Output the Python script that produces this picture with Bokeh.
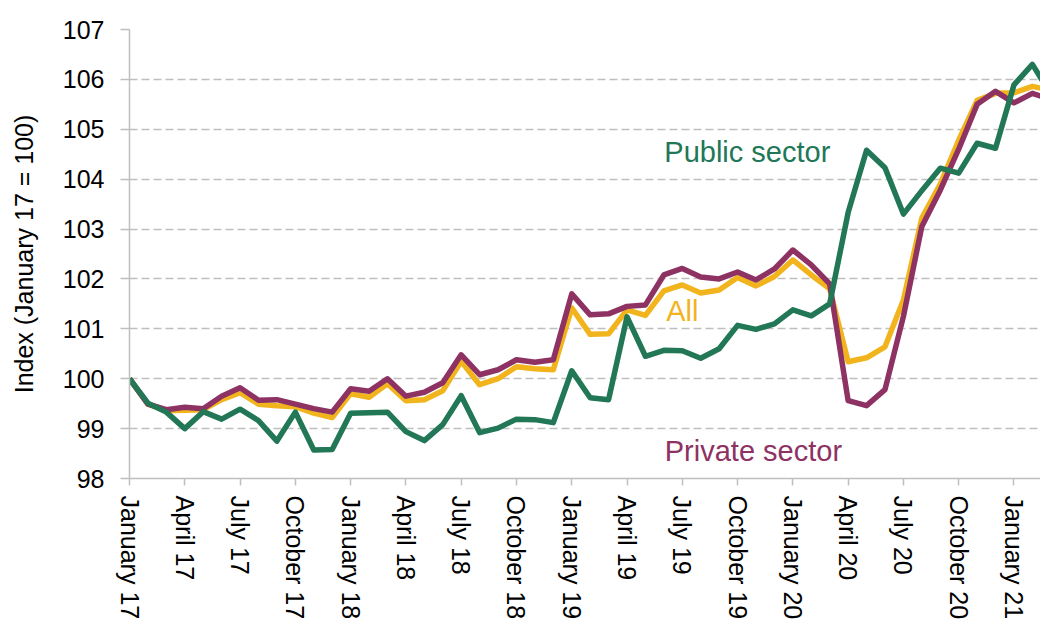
from bokeh.plotting import figure
from bokeh.models import Range1d, FixedTicker, Label, ColumnDataSource
from bokeh.embed import file_html
from bokeh.resources import INLINE

# Monthly index values, January 2017 = 100 (Jan 2017 .. Mar 2021)
public_sector = [100.00, 99.51, 99.33, 99.00, 99.34, 99.19, 99.39, 99.16, 98.75, 99.33,
                 98.57, 98.58, 99.31, 99.32, 99.33, 98.94, 98.76, 99.08, 99.66, 98.92,
                 99.01, 99.19, 99.18, 99.12, 100.16, 99.62, 99.58, 101.24, 100.45, 100.57,
                 100.56, 100.41, 100.60, 101.07, 100.99, 101.10, 101.38, 101.26, 101.50, 103.33,
                 104.58, 104.23, 103.30, 103.77, 104.22, 104.12, 104.72, 104.62, 105.89, 106.30,
                 105.70]
private_sector = [100.00, 99.49, 99.38, 99.43, 99.40, 99.65, 99.82, 99.57, 99.58, 99.49,
                  99.40, 99.33, 99.80, 99.75, 100.00, 99.65, 99.73, 99.92, 100.48, 100.08,
                  100.18, 100.38, 100.33, 100.38, 101.70, 101.28, 101.30, 101.45, 101.48, 102.08,
                  102.21, 102.04, 102.00, 102.14, 101.98, 102.20, 102.58, 102.28, 101.90, 99.56,
                  99.46, 99.78, 101.25, 103.05, 103.78, 104.60, 105.50, 105.76, 105.53, 105.72,
                  105.60]
all_workers = [100.00, 99.49, 99.36, 99.37, 99.38, 99.58, 99.72, 99.49, 99.46, 99.44,
               99.31, 99.22, 99.70, 99.63, 99.90, 99.56, 99.58, 99.76, 100.35, 99.88,
               100.00, 100.24, 100.20, 100.18, 101.42, 100.89, 100.90, 101.38, 101.27, 101.76,
               101.88, 101.72, 101.78, 102.03, 101.86, 102.05, 102.38, 102.08, 101.80, 100.34,
               100.42, 100.64, 101.58, 103.22, 103.90, 104.78, 105.58, 105.72, 105.73, 105.86,
               105.78]

tick_positions = [0, 3, 6, 9, 12, 15, 18, 21, 24, 27, 30, 33, 36, 39, 42, 45, 48]
tick_labels = ["January 17", "April 17", "July 17", "October 17",
               "January 18", "April 18", "July 18", "October 18",
               "January 19", "April 19", "July 19", "October 19",
               "January 20", "April 20", "July 20", "October 20",
               "January 21"]

GREEN = "#217756"
PURPLE = "#8D3262"
YELLOW = "#F1B41C"
FONT = "Liberation Sans"

month_index = list(range(len(all_workers)))
src = ColumnDataSource(dict(x=month_index, pub=public_sector, priv=private_sector, all=all_workers))

p = figure(width=1040, height=626, output_backend="svg", toolbar_location=None,
           x_range=Range1d(0, 49.44), y_range=Range1d(98, 107),
           min_border_left=129, min_border_right=0, min_border_top=29, min_border_bottom=148)
p.outline_line_color = None
p.background_fill_color = "white"
p.border_fill_color = "white"

p.line("x", "all", source=src, line_color=YELLOW, line_width=5.5, line_join="round")
p.line("x", "priv", source=src, line_color=PURPLE, line_width=5.5, line_join="round")
p.line("x", "pub", source=src, line_color=GREEN, line_width=5.5, line_join="round")

# Axes
p.xaxis.ticker = FixedTicker(ticks=tick_positions)
p.xaxis.major_label_overrides = {t: l for t, l in zip(tick_positions, tick_labels)}
p.xaxis.major_label_orientation = "vertical"
p.xaxis.minor_tick_line_color = None
p.xaxis.major_tick_in = 0
p.xaxis.major_tick_out = 7
p.xaxis.major_label_standoff = 10

p.yaxis.ticker = FixedTicker(ticks=list(range(98, 108)))
p.yaxis.minor_tick_line_color = None
p.yaxis.major_tick_in = 0
p.yaxis.major_tick_out = 9
p.yaxis.major_label_standoff = 16
p.yaxis.axis_label = "Index (January 17 = 100)"
p.yaxis.axis_label_standoff = 22

for ax in (p.xaxis, p.yaxis):
    ax.axis_line_color = "#BFBFBF"
    ax.axis_line_width = 1.5
    ax.major_tick_line_color = "#BFBFBF"
    ax.major_tick_line_width = 1.5
    ax.major_label_text_font = FONT
    ax.major_label_text_font_size = "25px"
    ax.major_label_text_color = "#000000"
    ax.axis_label_text_font = FONT
    ax.axis_label_text_font_size = "25px"
    ax.axis_label_text_font_style = "normal"
    ax.axis_label_text_color = "#000000"

p.xgrid.grid_line_color = None
p.ygrid.grid_line_color = "#BFBFBF"
p.ygrid.grid_line_width = 1.5
p.ygrid.grid_line_dash = "8 4"

# Series labels
for txt, xx, yy, col in [("Public sector", 33.53, 104.55, GREEN),
                         ("All", 30.0, 101.36, YELLOW),
                         ("Private sector", 33.86, 98.56, PURPLE)]:
    p.add_layout(Label(x=xx, y=yy, text=txt, text_color=col, text_font=FONT,
                       text_font_size="29px", text_align="center", text_baseline="middle"))

open("out.html", "w").write(file_html(p, INLINE))
